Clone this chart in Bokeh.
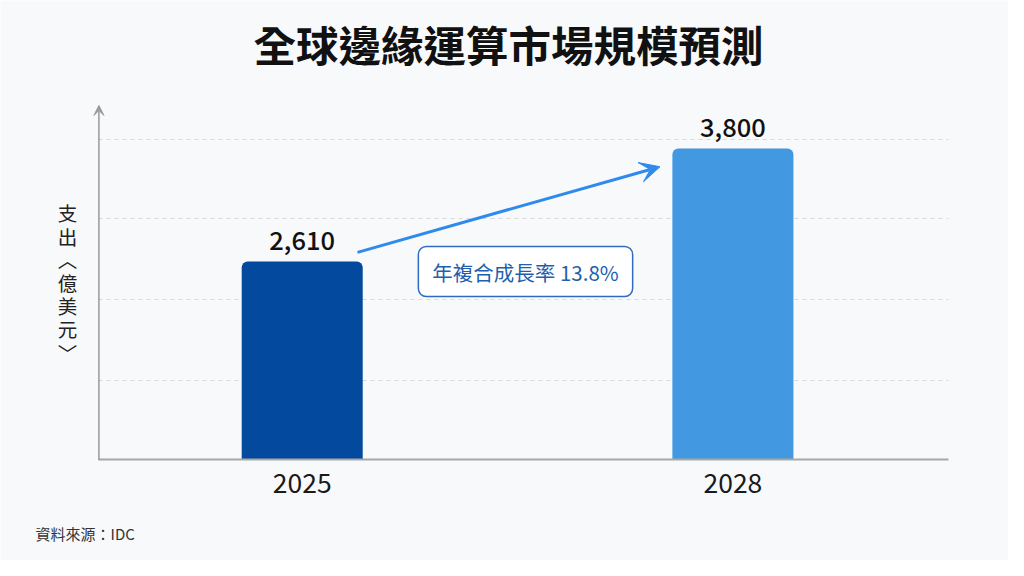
from bokeh.plotting import figure
from bokeh.models import Range1d, FixedTicker, Label, LabelSet, Arrow, VeeHead, ColumnDataSource
from bokeh.core.properties import value
from bokeh.embed import file_html
from bokeh.resources import INLINE

# ---- data ----
title_text = "全球邊緣運算市場規模預測"
years = ["2025", "2028"]
spending = [2610, 3800]
value_labels = ["2,610", "3,800"]
bar_colors = ["#034A9E", "#4299E1"]
y_label_chars = ["支", "出", "︿", "億", "美", "元", "﹀"]
cagr_text = "年複合成長率 13.8%"
source_text = "資料來源：IDC"

# ---- style / layout constants ----
FONT = "Noto Sans CJK TC"
MED_FONT = "Noto Sans CJK TC Medium, Noto Sans CJK TC"
BG = "#f8f9fb"
W, H = 1008, 560
BASE = 519                      # value at the x-axis line
X_LEFT, X_RIGHT = 0.028, 2.0    # extent of the drawn axes
GRID_VALUES = [1355, 2205, 3065, 3895]
BAR_WIDTH = 0.281

xpos = [i + 0.5 for i in range(len(years))]
src = ColumnDataSource(dict(x=xpos, v=spending, label=value_labels, color=bar_colors))

p = figure(x_range=Range1d(-0.2005, 2.1399), y_range=Range1d(-541, 5361),
           frame_width=W, frame_height=H,
           min_border_left=0, min_border_right=0, min_border_top=0, min_border_bottom=0,
           output_backend="svg", toolbar_location=None, tools="",
           background_fill_color=BG, border_fill_color=BG, outline_line_color=None)

p.vbar(x="x", top="v", bottom=BASE, width=BAR_WIDTH, fill_color="color", line_color=None,
       border_radius=(6, 6, 0, 0), source=src)

p.add_layout(LabelSet(x="x", y="v", text="label", source=src, text_align="center",
                      text_baseline="alphabetic", y_offset=12, text_font=value(MED_FONT),
                      text_font_size="25.5px", text_color="#111111"))

# grid
p.yaxis.visible = False
p.xgrid.visible = False
p.ygrid.ticker = FixedTicker(ticks=GRID_VALUES)
p.ygrid.cross_bounds = (X_LEFT, X_RIGHT)
p.ygrid.grid_line_color = "#d6d9dd"
p.ygrid.grid_line_dash = "4 4"
p.ygrid.grid_line_width = 1

# x axis drawn at the baseline
xa = p.xaxis[0]
xa.fixed_location = BASE
xa.bounds = (X_LEFT, X_RIGHT)
xa.ticker = FixedTicker(ticks=xpos)
xa.major_label_overrides = {x: y for x, y in zip(xpos, years)}
xa.axis_line_color = "#a8a8a8"
xa.axis_line_width = 2
xa.major_tick_line_color = None
xa.minor_tick_line_color = None
xa.major_tick_out = 0
xa.major_tick_in = 0
xa.major_label_standoff = 13
xa.major_label_text_font = FONT
xa.major_label_text_font_size = "26.5px"
xa.major_label_text_color = "#1a1a1a"

# y axis arrow
p.add_layout(Arrow(end=VeeHead(size=10, fill_color="#999999", line_color="#999999"),
                   x_start=X_LEFT, y_start=BASE, x_end=X_LEFT, y_end=4255,
                   line_color="#999999", line_width=1.5))

# growth arrow
p.add_layout(Arrow(end=VeeHead(size=20, fill_color="#2e8beb", line_color="#2e8beb"),
                   x_start=0.6284, y_start=2707, x_end=1.3307, y_end=3609,
                   line_color="#2e8beb", line_width=3))

# texts
p.add_layout(Label(x=508, y=517, x_units="screen", y_units="screen", text=title_text,
                   text_align="center", text_baseline="middle", text_font=FONT,
                   text_font_size="42.5px", text_font_style="bold", text_color="#111111"))

p.add_layout(Label(x=67, y=278, x_units="screen", y_units="screen",
                   text="\n".join(y_label_chars), text_align="center", text_baseline="middle",
                   text_font=FONT, text_font_size="19.5px", text_line_height=0.8,
                   text_color="#222222"))

p.add_layout(Label(x=525, y=289, x_units="screen", y_units="screen", text=cagr_text,
                   text_align="center", text_baseline="middle", text_font=FONT,
                   text_font_size="20.5px", text_color="#1f5fae",
                   background_fill_color="#ffffff", border_line_color="#2f6cc0",
                   border_line_width=1.5, border_radius=8,
                   padding=dict(left=14, right=14, top=10, bottom=10)))

p.add_layout(Label(x=35, y=27, x_units="screen", y_units="screen", text=source_text,
                   text_align="left", text_baseline="middle", text_font=FONT,
                   text_font_size="15px", text_color="#333333"))

open("out.html", "w").write(file_html(p, INLINE))
